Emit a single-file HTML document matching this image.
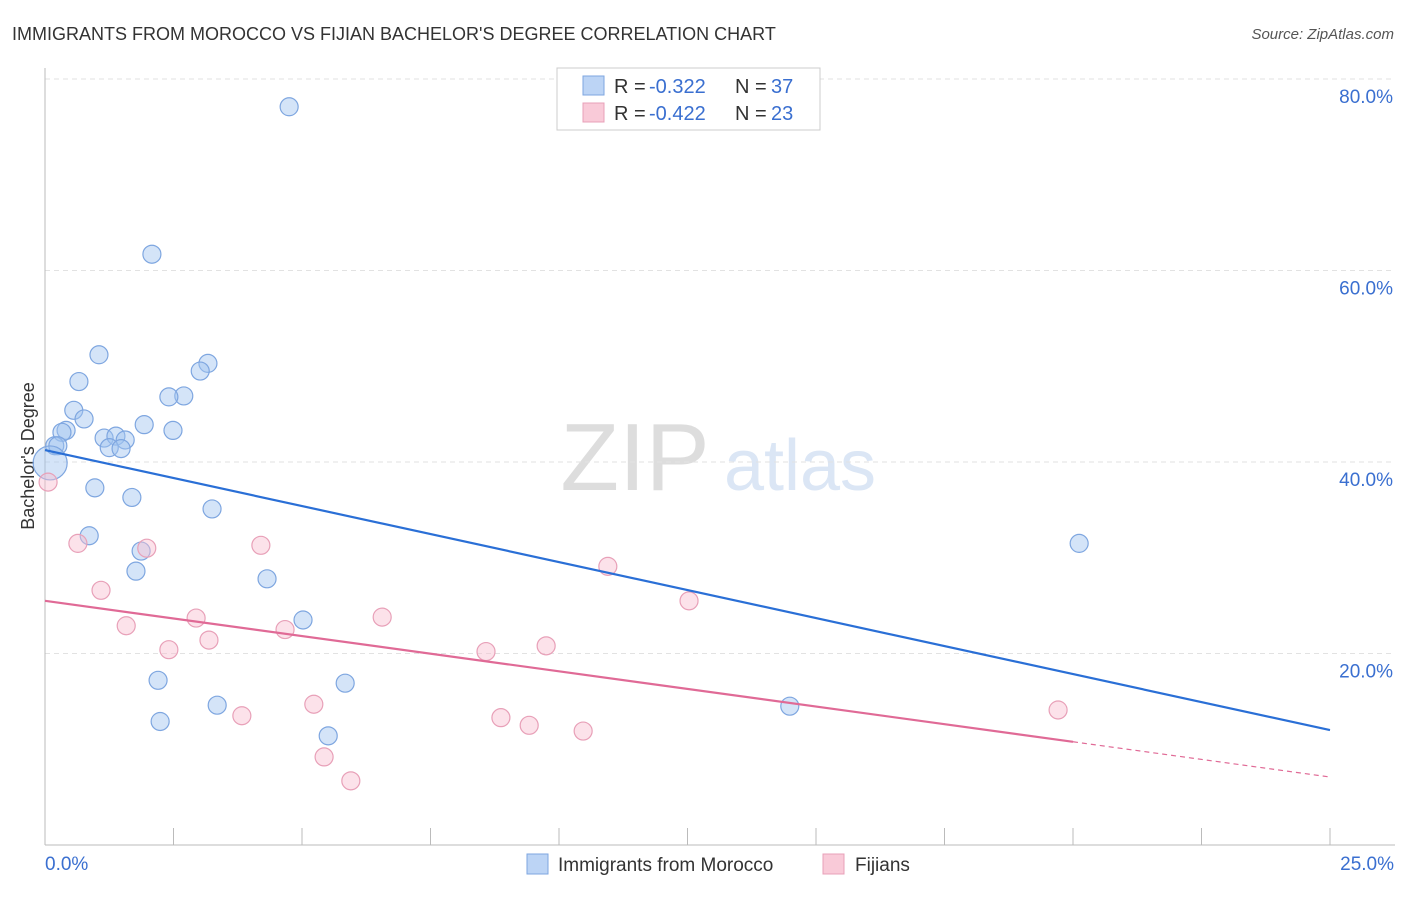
<!DOCTYPE html>
<html><head><meta charset="utf-8"><style>
body{margin:0;background:#fff;font-family:"Liberation Sans",sans-serif;}
svg text{font-family:"Liberation Sans",sans-serif;}
</style></head><body>
<svg id="c" width="1406" height="892">
<text x="12" y="40" font-size="18" fill="#333">IMMIGRANTS FROM MOROCCO VS FIJIAN BACHELOR'S DEGREE CORRELATION CHART</text>
<text x="1394" y="39" font-size="15" fill="#555" text-anchor="end" font-style="italic">Source: ZipAtlas.com</text>
<text x="0" y="0" font-size="18" fill="#333" text-anchor="middle" transform="translate(34,456) rotate(-90)">Bachelor's Degree</text>
<g><text x="635" y="490" font-size="96" fill="#ddd" font-family="Liberation Serif" text-anchor="middle">ZIP</text><text x="800" y="490" font-size="72" fill="#dbe6f5" text-anchor="middle">atlas</text></g>
<g id="grid"></g><g id="axes"></g><g id="marks"></g>
<g>
<rect x="557" y="68" width="263" height="62" fill="#fff" stroke="#ccc"/>
<rect x="583" y="76" width="21" height="19" fill="#bcd4f5" stroke="#7ea6e0"/>
<text x="614" y="93" font-size="20" fill="#333">R =</text><text x="649" y="93" font-size="20" fill="#3a6fd0">-0.322</text>
<text x="735" y="93" font-size="20" fill="#333">N =</text><text x="771" y="93" font-size="20" fill="#3a6fd0">37</text>
<rect x="583" y="103" width="21" height="19" fill="#f9cad8" stroke="#e8a0b8"/>
<text x="614" y="120" font-size="20" fill="#333">R =</text><text x="649" y="120" font-size="20" fill="#3a6fd0">-0.422</text>
<text x="735" y="120" font-size="20" fill="#333">N =</text><text x="771" y="120" font-size="20" fill="#3a6fd0">23</text>
</g>
<g>
<rect x="527" y="854" width="21" height="20" fill="#bcd4f5" stroke="#7ea6e0"/>
<text x="558" y="871" font-size="19" fill="#333">Immigrants from Morocco</text>
<rect x="823" y="854" width="21" height="20" fill="#f9cad8" stroke="#e8a0b8"/>
<text x="855" y="871" font-size="19" fill="#333">Fijians</text>
</g>
</svg>
<script>
const yTicks=[20,40,60,80];
const xTickLabels=["0.0%","25.0%"];
const blueX=[4.75,2.08,1.05,3.17,3.02,0.66,2.70,2.41,0.56,0.76,1.93,2.49,0.41,0.33,1.15,1.38,1.56,1.25,1.48,0.19,0.25,0.10,0.97,1.69,3.25,0.86,1.87,1.77,4.32,5.02,2.20,5.84,3.35,2.24,5.51,14.49,20.12];
const blueY=[77.1,61.7,51.2,50.3,49.5,48.4,46.9,46.8,45.4,44.5,43.9,43.3,43.3,43.1,42.5,42.7,42.3,41.5,41.4,41.7,41.7,39.9,37.3,36.3,35.1,32.3,30.7,28.6,27.8,23.5,17.2,16.9,14.6,12.9,11.4,14.5,31.5];
const pinkX=[0.06,0.64,1.98,4.20,1.09,2.94,1.58,3.19,2.41,4.67,6.56,10.95,12.53,9.75,8.58,5.23,3.83,8.87,9.42,10.47,5.43,5.95,19.71];
const pinkY=[37.9,31.5,31.0,31.3,26.6,23.7,22.9,21.4,20.4,22.5,23.8,29.1,25.5,20.8,20.2,14.7,13.5,13.3,12.5,11.9,9.2,6.7,14.1];
const blueTrend=[41.25,12.0];
const pinkTrend=[25.5,7.1];
const pinkSolidEnd=20;
const NS="http://www.w3.org/2000/svg";
const X=v=>45+v*51.4, Y=v=>845-v*9.575;
function mk(t,a,p){const e=document.createElementNS(NS,t);for(const k in a)e.setAttribute(k,a[k]);document.getElementById(p).appendChild(e);return e;}
let e=mk('line',{x1:45,y1:68,x2:45,y2:845,stroke:'#bbb'},'axes');

e=mk('line',{x1:45,y1:845,x2:1395,y2:845,stroke:'#bbb'},'axes');

for(let i=1;i<=10;i++){e=mk('line',{x1:X(i*2.5),y1:828,x2:X(i*2.5),y2:845,stroke:'#bbb'},'axes');
}
yTicks.forEach(t=>{e=mk('line',{x1:45,y1:Y(t),x2:1395,y2:Y(t),stroke:'#e2e2e2','stroke-dasharray':'5,4'},'grid');

e=mk('text',{x:1393,y:Y(t)+24,'font-size':19,fill:'#3a6fd0','text-anchor':'end'},'axes');e.textContent=t.toFixed(1)+'%';
});
e=mk('text',{x:45,y:870,'font-size':19,fill:'#3a6fd0'},'axes');e.textContent=xTickLabels[0];

e=mk('text',{x:1394,y:870,'font-size':19,fill:'#3a6fd0','text-anchor':'end'},'axes');e.textContent=xTickLabels[1];

blueX.forEach((x,i)=>{e=mk('circle',{cx:X(x),cy:Y(blueY[i]),r:i==21?17:9,fill:'rgba(160,195,240,0.45)',stroke:'#7ea6e0','stroke-width':1.2},'marks');
});
pinkX.forEach((x,i)=>{e=mk('circle',{cx:X(x),cy:Y(pinkY[i]),r:9,fill:'rgba(248,190,208,0.45)',stroke:'#e8a0b8','stroke-width':1.2},'marks');
});
const py=x=>pinkTrend[0]+(pinkTrend[1]-pinkTrend[0])*x/25;
e=mk('line',{x1:X(0),y1:Y(blueTrend[0]),x2:X(25),y2:Y(blueTrend[1]),stroke:'#2a6fd6','stroke-width':2.2},'marks');

e=mk('line',{x1:X(0),y1:Y(py(0)),x2:X(pinkSolidEnd),y2:Y(py(pinkSolidEnd)),stroke:'#e06a96','stroke-width':2.2},'marks');

e=mk('line',{x1:X(pinkSolidEnd),y1:Y(py(pinkSolidEnd)),x2:X(25),y2:Y(py(25)),stroke:'#e06a96','stroke-width':1.2,'stroke-dasharray':'5,4'},'marks');

</script>
</body></html>
